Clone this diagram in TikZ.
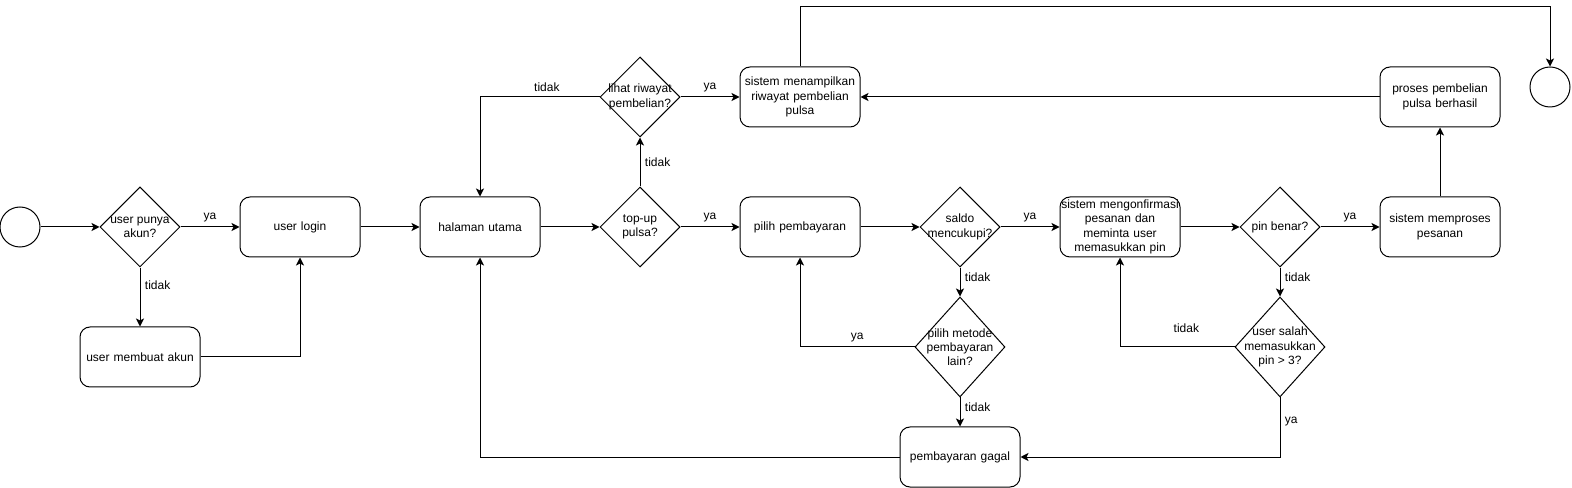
\documentclass[tikz,border=0pt]{standalone}
\usepackage{fontspec}
\setmainfont{Liberation Sans}
\usetikzlibrary{shapes.geometric, positioning, arrows.meta}

\begin{document}
\begin{tikzpicture}[x=0.75pt, y=-0.75pt, node distance=120pt, on grid, auto,
        font=\fontsize{9}{10.7}\selectfont, line width=0.75pt,
        >={Stealth[length=6pt, width=6pt, inset=1.5pt]}]
                \tikzset{
                    proc/.style={draw, rounded corners=7.5pt, minimum width=90pt, minimum height=45pt,
                        text width=90pt, align=center, inner sep=0pt},
                    dec/.style={draw, diamond, minimum width=60pt, minimum height=60pt, inner sep=0pt},
                    bigdec/.style={dec, minimum width=67.5pt, minimum height=75pt},
                    term/.style={draw, circle, minimum size=30pt, inner sep=0pt},
                    txt/.style={label={[align=center]center:#1}}
                }
                \useasboundingbox (0,0) rectangle (1572,488);

                % START
                \node[term] (start) at (20,227) {};

                % LOGIN
                \node[dec, txt={user punya\\akun?}] (akun) [right=90pt of start] {};
                \node[proc] (login) [right=of akun] {user login};
                \node[proc] (buat) [below=97.5pt of akun] {user membuat akun};
                \node[proc] (home) [right=135pt of login] {halaman utama};

                % MENU
                \node[dec, txt={top-up\\pulsa?}] (topup) [right=of home] {};
                \node[dec, txt={lihat riwayat\\pembelian?}] (lihat) [above=97.5pt of topup] {};
                \node[proc] (tampil) [right=of lihat] {sistem menampilkan\\riwayat pembelian\\pulsa};

                % PAYMENT
                \node[proc] (bayar) [right=of topup] {pilih pembayaran};
                \node[dec, txt={saldo\\mencukupi?}] (saldo) [right=of bayar] {};
                \node[bigdec, txt={pilih metode\\pembayaran\\lain?}] (metode) [below=90pt of saldo] {};
                \node[proc] (gagal) [below=82.5pt of metode] {pembayaran gagal};
                \node[proc] (konf) [right=of saldo] {sistem mengonfirmasi\\pesanan dan\\meminta user\\memasukkan pin};
                \node[dec, txt={pin benar?}] (pin) [right=of konf] {};
                \node[bigdec, txt={user salah\\memasukkan\\pin > 3?}] (salah) [below=90pt of pin] {};
                \node[proc] (proses) [right=of pin] {sistem memproses\\pesanan};
                \node[proc] (berhasil) [above=97.5pt of proses] {proses pembelian\\pulsa berhasil};

                % END
                \node[term] (end) at (1550,87) {};

                % TRANSITIONS
                \path[->]
                    (start) edge (akun)
                    (akun) edge node {ya} (login)
                    (akun) edge node[pos=0.3] {tidak} (buat)
                    (login) edge (home)
                    (home) edge (topup)
                    (topup) edge node {ya} (bayar)
                    (topup) edge node[swap] {tidak} (lihat)
                    (lihat) edge node {ya} (tampil)
                    (bayar) edge (saldo)
                    (saldo) edge node {ya} (konf)
                    (saldo) edge node[pos=0.33] {tidak} (metode)
                    (metode) edge node[pos=0.33] {tidak} (gagal)
                    (konf) edge (pin)
                    (pin) edge node {ya} (proses)
                    (pin) edge node[pos=0.33] {tidak} (salah)
                    (proses) edge (berhasil)
                    (berhasil) edge (tampil);

                \draw[->] (buat) -| (login);
                \draw[->] (lihat) -| node[pos=0.22, swap] {tidak} (home);
                \draw[->] (metode) -| node[pos=0.25, swap] {ya} (bayar);
                \draw[->] (salah) -| node[pos=0.21, swap, yshift=7pt] {tidak} (konf);
                \draw[->] (salah) |- node[pos=0.2] {ya} (gagal);
                \draw[->] (gagal) -| (home);
                \draw[->] (tampil) -- ++(0,-90) -| (end);

            \end{tikzpicture}
\end{document}
